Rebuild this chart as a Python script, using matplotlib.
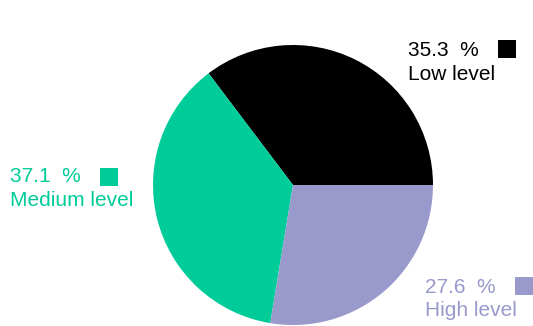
import matplotlib
matplotlib.use("Agg")
import matplotlib.pyplot as plt
from matplotlib.patches import Rectangle

categories = ["Low level", "Medium level", "High level"]
shares = [35.3, 37.1, 27.6]
colors = ["#000000", "#00CC99", "#9999CC"]

W, H = 533, 326
fig = plt.figure(figsize=(W / 100, H / 100), dpi=100)
plt.rcParams["font.family"] = ["Liberation Sans", "DejaVu Sans"]

# pie area: centre (293, 185) px, radius 140 px
cx, cy, r = 293, 185, 140
ax = fig.add_axes([(cx - r) / W, (H - cy - r) / H, 2 * r / W, 2 * r / H])
ax.pie(shares, colors=colors, startangle=0, counterclock=True,
       wedgeprops=dict(linewidth=0))
ax.set_xlim(-1, 1)
ax.set_ylim(-1, 1)
ax.set_aspect("equal")
ax.axis("off")

# label blocks: (text left x, first baseline y, square left x, square top y) in px
label_pos = [(408, 56.5, 498, 40), (10, 182, 100, 168), (425, 293, 515, 277)]
fs = 15
sq = 18
gap = 23.5
for cat, val, col, (tx, ty, sx, sy) in zip(categories, shares, colors, label_pos):
    fig.text(tx / W, 1 - ty / H, f"{val:.1f}  %", color=col, fontsize=fs,
             va="baseline", ha="left")
    fig.text(tx / W, 1 - (ty + gap) / H, cat, color=col, fontsize=fs,
             va="baseline", ha="left")
    fig.patches.append(Rectangle((sx / W, 1 - (sy + sq) / H), sq / W, sq / H,
                                 transform=fig.transFigure, facecolor=col,
                                 edgecolor="none"))

fig.savefig("out.png", dpi=100)
